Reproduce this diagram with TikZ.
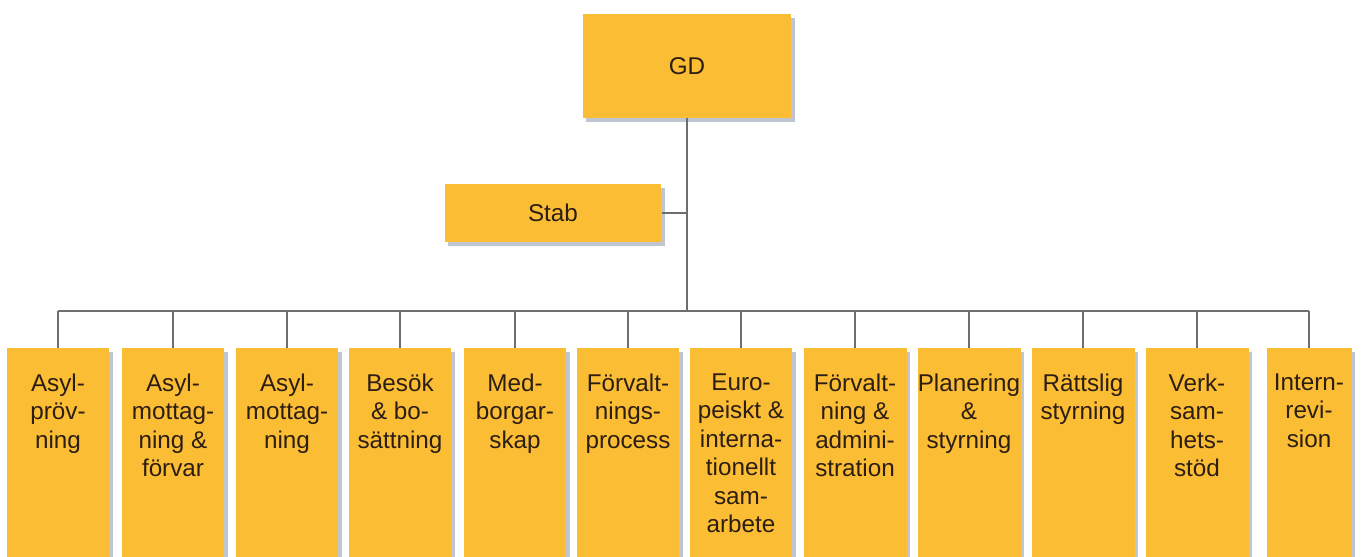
\documentclass[tikz,border=0pt]{standalone}
\usepackage{fontspec}
\setmainfont{Liberation Sans}
\usetikzlibrary{positioning,shadows}
\definecolor{boxyellow}{RGB}{250,189,52}
\definecolor{linegray}{RGB}{110,110,110}
\definecolor{textbrown}{RGB}{45,30,20}
\definecolor{shadowgray}{RGB}{150,160,178}

\tikzset{
  orgbox/.style={fill=boxyellow, draw=none, text=textbrown,
    font=\fontsize{13.8}{16.2}\selectfont,
    drop shadow={shadow xshift=2pt, shadow yshift=-2pt, fill=shadowgray, opacity=0.6}},
  unitbox/.style={orgbox, anchor=north, minimum height=4.18cm, inner sep=0pt},
  unitlabel/.style={anchor=north, align=center, text=textbrown,
    font=\fontsize{13.8}{16.2}\selectfont, yshift=-0.39cm},
  conn/.style={draw=linegray, line width=1.1pt}
}

\begin{document}
\begin{tikzpicture}[x=0.02cm, y=-0.02cm]
  \useasboundingbox (0,0) rectangle (1366,557);

  % GD and Stab
  \node[orgbox, minimum width=4.18cm, minimum height=2.08cm] (gd) at (687,66) {GD};
  \node[orgbox, minimum width=4.34cm, minimum height=1.16cm] (stab) at (553,213) {Stab};
  \coordinate (bus) at (687,311);

  % Units
  \foreach \i/\x/\w/\t in {
      1/58/2.06/{Asyl-\\pröv-\\ning},
      2/173/2.06/{Asyl-\\mottag-\\ning \&\\förvar},
      3/287/2.06/{Asyl-\\mottag-\\ning},
      4/400/2.06/{Besök\\\& bo-\\sättning},
      5/515/2.06/{Med-\\borgar-\\skap},
      6/628/2.06/{Förvalt-\\nings-\\process},
      7/741/2.06/{Euro-\\peiskt \&\\interna-\\tionellt\\sam-\\arbete},
      8/855/2.06/{Förvalt-\\ning \&\\admini-\\stration},
      9/969/2.06/{Planering\\\&\\styrning},
      10/1083/2.06/{Rättslig\\styrning},
      11/1197/2.06/{Verk-\\sam-\\hets-\\stöd},
      12/1309/1.70/{Intern-\\revi-\\sion}} {
    \node[unitbox, minimum width=\w cm,
      label={[unitlabel, name=ut\i]north:\t}] (u\i) at (\x,348) {};
  }

  % Lines
  \draw[conn] (gd.south) -- (bus);
  \draw[conn] (stab.east) -- (stab.east -| gd.south);
  \draw[conn] (u1.north |- bus) -- (u12.north |- bus);
  \foreach \i in {1,...,12}
    \draw[conn] (u\i.north |- bus) -- (u\i.north);
\end{tikzpicture}
\end{document}
